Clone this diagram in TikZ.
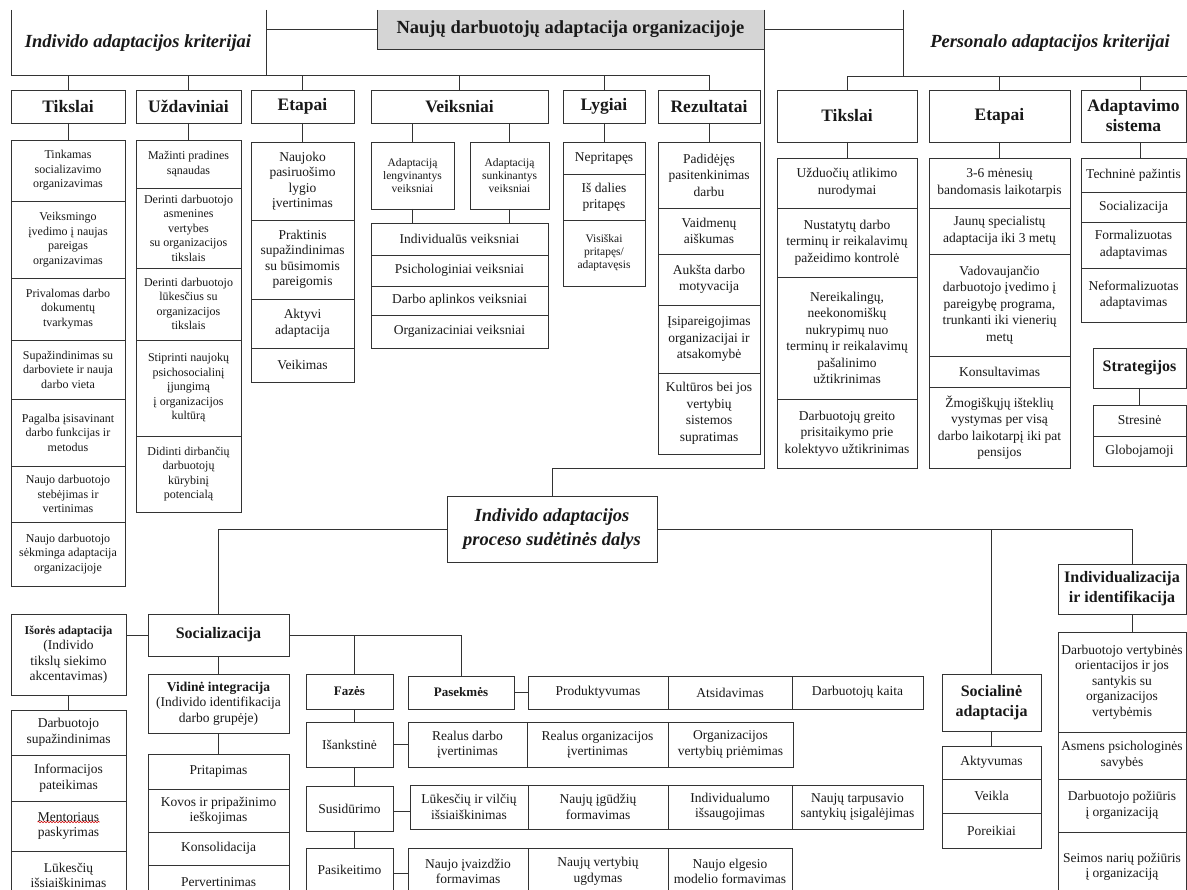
\documentclass[tikz,border=0pt]{standalone}
\usepackage{fontspec}
\setmainfont{Liberation Serif}
\usetikzlibrary{decorations.pathmorphing}
\newcommand\fnB{\fontsize{13.5}{15.5}\selectfont}
\newcommand\fnP{\fontsize{13.5}{16.5}\selectfont}
\newcommand\fnS{\fontsize{12}{14.5}\selectfont}
\newcommand\fnTiny{\fontsize{11.5}{13}\selectfont}
\newcommand\fnH{\fontsize{17.5}{20}\selectfont\bfseries}
\newcommand\fnM{\fontsize{16}{20}\selectfont\bfseries}
\newcommand\fnSb{\fontsize{13}{15.5}\selectfont\bfseries}
\newcommand\fnTitle{\fontsize{18.5}{22}\selectfont\bfseries}
\newcommand\fnIt{\fontsize{18.5}{24}\selectfont\bfseries\itshape}
\newcommand\bx[7][]{\node[box,#1,minimum width={(#5-#3)*1pt},minimum height={(#6-#4)*1pt}] (#2) at ({(#3+#5)/2},{(#4+#6)/2}) {#7};}
\begin{document}
\begin{tikzpicture}[x=1pt,y=-1pt,
  box/.style={draw=black!80,line width=0.9pt,inner sep=1pt,outer sep=0pt,align=center,text=black!90,font=\fnB},
  ln/.style={draw=black!80,line width=0.9pt},
  hd/.style={font=\fnH},
  sm/.style={font=\fnS},
  tn/.style={font=\fnTiny},
  rp/.style={font=\fnP}]
\clip (0,0) rectangle (1187,890);
\fill[white] (0,0) rectangle (1187,890);
% ---------- top title ----------
\fill[gray!33] (377,10) rectangle (764,49);
\node[font=\fnTitle,text=black!90] (title) at (570.5,29.5) {Naujų darbuotojų adaptacija organizacijoje};
\coordinate (tTL) at (377,10);
\coordinate (tBL) at (377,49);
\coordinate (tTR) at (764,10);
\coordinate (tJ) at (764,468);
\coordinate (tML) at (377,29.5);
\coordinate (tMR) at (764,29.5);
\draw[ln] (tTL) -- (tBL) -- (tBL -| tTR);
% ---------- left criteria ----------
\node[font=\fnIt,text=black!90] (kritL) at (138,43) {Individo adaptacijos kriterijai};
\coordinate (oL1) at (11,10);
\coordinate (oL2) at (266,10);
\coordinate (busL) at (11,75);
\bx[hd]{tikH}{11}{90}{125}{123}{Tikslai}
\bx[hd]{uzdH}{136}{90}{241}{123}{Uždaviniai}
\bx[hd]{etaH}{251}{90}{354}{123}{Etapai}
\bx[hd]{veiH}{371}{90}{548}{123}{Veiksniai}
\bx[hd]{lygH}{563}{90}{645}{123}{Lygiai}
\bx[hd]{rezH}{658}{90}{760}{123}{Rezultatai}
\draw[ln] (oL1) -- (busL) -| (rezH.north);
\draw[ln] (oL2) -- (oL2 |- busL);
\draw[ln] (tML) -- (tML -| oL2);
\foreach \n in {tikH,uzdH,etaH,veiH,lygH} \draw[ln] (\n.north) -- (\n.north |- busL);
% Tikslai
\bx[sm]{tik1}{11}{140}{125}{201}{Tinkamas\\socializavimo\\organizavimas}
\bx[sm]{tik2}{11}{201}{125}{278}{Veiksmingo\\įvedimo į naujas\\pareigas\\organizavimas}
\bx[sm]{tik3}{11}{278}{125}{340}{Privalomas darbo\\dokumentų\\tvarkymas}
\bx[sm]{tik4}{11}{340}{125}{399}{Supažindinimas su\\darboviete ir nauja\\darbo vieta}
\bx[sm]{tik5}{11}{399}{125}{466}{Pagalba įsisavinant\\darbo funkcijas ir\\metodus}
\bx[sm]{tik6}{11}{466}{125}{522}{Naujo darbuotojo\\stebėjimas ir\\vertinimas}
\bx[sm]{tik7}{11}{522}{125}{586}{Naujo darbuotojo\\sėkminga adaptacija\\organizacijoje}
% Uzdaviniai
\bx[sm]{uzd1}{136}{140}{241}{188}{Mažinti pradines\\sąnaudas}
\bx[sm]{uzd2}{136}{188}{241}{268}{Derinti darbuotojo\\asmenines\\vertybes\\su organizacijos\\tikslais}
\bx[sm]{uzd3}{136}{268}{241}{340}{Derinti darbuotojo\\lūkesčius su\\organizacijos\\tikslais}
\bx[sm]{uzd4}{136}{340}{241}{436}{Stiprinti naujokų\\psichosocialinį\\įjungimą\\į organizacijos\\kultūrą}
\bx[sm]{uzd5}{136}{436}{241}{512}{Didinti dirbančių\\darbuotojų\\kūrybinį\\potencialą}
% Etapai
\bx{eta1}{251}{142}{354}{220}{Naujoko\\pasiruošimo\\lygio\\įvertinimas}
\bx{eta2}{251}{220}{354}{299}{Praktinis\\supažindinimas\\su būsimomis\\pareigomis}
\bx{eta3}{251}{299}{354}{348}{Aktyvi\\adaptacija}
\bx{eta4}{251}{348}{354}{382}{Veikimas}
% Veiksniai
\bx[tn]{veiL}{371}{142}{454}{209}{Adaptaciją\\lengvinantys\\veiksniai}
\bx[tn]{veiR}{470}{142}{549}{209}{Adaptaciją\\sunkinantys\\veiksniai}
\bx{vei1}{371}{223}{548}{255}{Individualūs veiksniai}
\bx{vei2}{371}{255}{548}{286}{Psichologiniai veiksniai}
\bx{vei3}{371}{286}{548}{315}{Darbo aplinkos veiksniai}
\bx{vei4}{371}{315}{548}{348}{Organizaciniai veiksniai}
% Lygiai
\bx{lyg1}{563}{142}{645}{174}{Nepritapęs}
\bx{lyg2}{563}{174}{645}{220}{Iš dalies\\pritapęs}
\bx[tn]{lyg3}{563}{220}{645}{286}{Visiškai\\pritapęs/\\adaptavęsis}
% Rezultatai
\bx[rp]{rez1}{658}{142}{760}{208}{Padidėjęs\\pasitenkinimas\\darbu}
\bx[rp]{rez2}{658}{208}{760}{254}{Vaidmenų\\aiškumas}
\bx[rp]{rez3}{658}{254}{760}{305}{Aukšta darbo\\motyvacija}
\bx[rp]{rez4}{658}{305}{760}{373}{Įsipareigojimas\\organizacijai ir\\atsakomybė}
\bx[rp]{rez5}{658}{373}{760}{454}{Kultūros bei jos\\vertybių\\sistemos\\supratimas}
\draw[ln] (tikH.south) -- (tik1.north);
\draw[ln] (uzdH.south) -- (uzd1.north);
\draw[ln] (etaH.south) -- (eta1.north);
\draw[ln] (lygH.south) -- (lyg1.north);
\draw[ln] (rezH.south) -- (rez1.north);
\draw[ln] (veiL.north) -- (veiL.north |- veiH.south);
\draw[ln] (veiR.north) -- (veiR.north |- veiH.south);
\draw[ln] (veiL.south) -- (veiL.south |- vei1.north);
\draw[ln] (veiR.south) -- (veiR.south |- vei1.north);
% ---------- right criteria ----------
\node[font=\fnIt,text=black!90] (kritR) at (1050,43) {Personalo adaptacijos kriterijai};
\coordinate (oR) at (903,10);
\coordinate (busR) at (1190,76);
\draw[ln] (tMR) -- (tMR -| oR);
\draw[ln] (oR) -- (oR |- busR);
\bx[hd]{ptikH}{777}{90}{917}{142}{Tikslai}
\bx[hd]{petaH}{929}{90}{1070}{142}{Etapai}
\bx[hd]{adaH}{1081}{90}{1186}{142}{Adaptavimo\\sistema}
\draw[ln] (ptikH.north) |- (busR);
\draw[ln] (petaH.north) -- (petaH.north |- busR);
\draw[ln] ([xshift=7pt]adaH.north) -- ([xshift=7pt]adaH.north |- busR);
\bx[rp]{ptik1}{777}{158}{917}{208}{Užduočių atlikimo\\nurodymai}
\bx[rp]{ptik2}{777}{208}{917}{277}{Nustatytų darbo\\terminų ir reikalavimų\\pažeidimo kontrolė}
\bx[rp]{ptik3}{777}{277}{917}{399}{Nereikalingų,\\neekonomiškų\\nukrypimų nuo\\terminų ir reikalavimų\\pašalinimo\\užtikrinimas}
\bx[rp]{ptik4}{777}{399}{917}{468}{Darbuotojų greito\\prisitaikymo prie\\kolektyvo užtikrinimas}
\bx[rp]{peta1}{929}{158}{1070}{208}{3-6 mėnesių\\bandomasis laikotarpis}
\bx[rp]{peta2}{929}{208}{1070}{254}{Jaunų specialistų\\adaptacija iki 3 metų}
\bx[rp]{peta3}{929}{254}{1070}{356}{Vadovaujančio\\darbuotojo įvedimo į\\pareigybę programa,\\trunkanti iki vienerių\\metų}
\bx[rp]{peta4}{929}{356}{1070}{387}{Konsultavimas}
\bx[rp]{peta5}{929}{387}{1070}{468}{Žmogiškųjų išteklių\\vystymas per visą\\darbo laikotarpį iki pat\\pensijos}
\bx[rp]{ada1}{1081}{158}{1186}{192}{Techninė pažintis}
\bx[rp]{ada2}{1081}{192}{1186}{222}{Socializacija}
\bx[rp]{ada3}{1081}{222}{1186}{268}{Formalizuotas\\adaptavimas}
\bx[rp]{ada4}{1081}{268}{1186}{322}{Neformalizuotas\\adaptavimas}
\bx[font=\fnM]{strH}{1093}{348}{1186}{388}{Strategijos}
\bx[rp]{str1}{1093}{405}{1186}{436}{Stresinė}
\bx[rp]{str2}{1093}{436}{1186}{466}{Globojamoji}
\draw[ln] (ptikH.south) -- (ptik1.north);
\draw[ln] (petaH.south) -- (peta1.north);
\draw[ln] ([xshift=7pt]adaH.south) -- ([xshift=7pt]ada1.north);
\draw[ln] (strH.south) -- (str1.north);
% ---------- centre ----------
\bx[font=\fnIt]{proc}{447}{496}{657}{562}{Individo adaptacijos\\proceso sudėtinės dalys}
\draw[ln] (tTR) -- (tJ) -| (proc.north);
% ---------- lower left ----------
\bx[font=\fnM]{soc}{148}{614}{289}{656}{Socializacija}
\bx{isor}{11}{614}{126}{695}{{\fontsize{12}{15.5}\selectfont\bfseries Išorės adaptacija}\\(Individo\\tikslų siekimo\\akcentavimas)}
\bx{isor1}{11}{710}{126}{755}{Darbuotojo\\supažindinimas}
\bx{isor2}{11}{755}{126}{801}{Informacijos\\pateikimas}
\bx{isor3}{11}{801}{126}{851}{Mentoriaus\\paskyrimas}
\bx{isor4}{11}{851}{126}{900}{Lūkesčių\\išsiaiškinimas}
\bx{vid}{148}{674}{289}{733}{\textbf{Vidinė integracija}\\(Individo identifikacija\\darbo grupėje)}
\bx{vid1}{148}{754}{289}{789}{Pritapimas}
\bx{vid2}{148}{789}{289}{832}{Kovos ir pripažinimo\\ieškojimas}
\bx{vid3}{148}{832}{289}{865}{Konsolidacija}
\bx{vid4}{148}{865}{289}{900}{Pervertinimas}
\draw[red!80!black,line width=0.6pt,decorate,decoration={snake,amplitude=0.7pt,segment length=3pt}] ([xshift=-31pt,yshift=4pt]isor3.center) -- ([xshift=31pt,yshift=4pt]isor3.center);
\draw[ln] (proc.west) -| (soc.north);
\draw[ln] (soc.west) -- (soc.west -| isor.east);
\draw[ln] (isor.south) -- (isor1.north);
\draw[ln] (soc.south) -- (vid.north);
\draw[ln] (vid.south) -- (vid1.north);
% ---------- phases ----------
\bx[font=\fnSb]{faz}{306}{674}{393}{709}{Fazės}
\bx{isank}{306}{722}{393}{767}{Išankstinė}
\bx{susid}{306}{786}{393}{831}{Susidūrimo}
\bx{pasik}{306}{848}{393}{892}{Pasikeitimo}
\bx[font=\fnSb]{pas}{408}{676}{514}{709}{Pasekmės}
\bx{prod}{528}{676}{668}{709}{Produktyvumas}
\bx{atsi}{668}{676}{792}{709}{Atsidavimas}
\bx{kaita}{792}{676}{923}{709}{Darbuotojų kaita}
\bx{ra1}{408}{722}{527}{767}{Realus darbo\\įvertinimas}
\bx{ra2}{527}{722}{668}{767}{Realus organizacijos\\įvertinimas}
\bx{ra3}{668}{722}{793}{767}{Organizacijos\\vertybių priėmimas}
\bx{sa1}{410}{785}{528}{829}{Lūkesčių ir vilčių\\išsiaiškinimas}
\bx{sa2}{528}{785}{668}{829}{Naujų įgūdžių\\formavimas}
\bx{sa3}{668}{785}{792}{829}{Individualumo\\išsaugojimas}
\bx{sa4}{792}{785}{923}{829}{Naujų tarpusavio\\santykių įsigalėjimas}
\bx{pa1}{408}{848}{528}{895}{Naujo įvaizdžio\\formavimas}
\bx{pa2}{528}{848}{668}{895}{Naujų vertybių\\ugdymas}
\bx{pa3}{668}{848}{792}{895}{Naujo elgesio\\modelio formavimas}
\draw[ln] (soc.east) -| ([xshift=5pt]faz.north);
\draw[ln] (soc.east) -| (pas.north);
\draw[ln] ([xshift=5pt]faz.south) -- ([xshift=5pt]isank.north);
\draw[ln] ([xshift=5pt]isank.south) -- ([xshift=5pt]susid.north);
\draw[ln] ([xshift=5pt]susid.south) -- ([xshift=5pt]pasik.north);
\draw[ln] (pas.east) -- (prod.west);
\draw[ln] (isank.east) -- (isank.east -| ra1.west);
\draw[ln] ([yshift=-3pt]susid.east) -- ([yshift=-3pt]susid.east -| sa1.west);
\draw[ln] ([yshift=-3pt]pasik.east) -- ([yshift=-3pt]pasik.east -| pa1.west);
% ---------- lower right ----------
\bx[font=\fnM]{socad}{942}{674}{1041}{731}{Socialinė\\adaptacija}
\bx{socad1}{942}{746}{1041}{779}{Aktyvumas}
\bx{socad2}{942}{779}{1041}{813}{Veikla}
\bx{socad3}{942}{813}{1041}{848}{Poreikiai}
\draw[ln] (socad.north) -- (socad.north |- proc.east);
\draw[ln] (socad.south) -- (socad1.north);
\bx[font=\fnM]{ind}{1058}{564}{1186}{614}{Individualizacija\\ir identifikacija}
\bx{ind1}{1058}{632}{1186}{732}{Darbuotojo vertybinės\\orientacijos ir jos\\santykis su\\organizacijos\\vertybėmis}
\bx{ind2}{1058}{732}{1186}{779}{Asmens psichologinės\\savybės}
\bx{ind3}{1058}{779}{1186}{832}{Darbuotojo požiūris\\į organizaciją}
\bx{ind4}{1058}{832}{1186}{902}{Seimos narių požiūris\\į organizaciją}
\draw[ln] (proc.east) -| ([xshift=10pt]ind.north);
\draw[ln] ([xshift=10pt]ind.south) -- ([xshift=10pt]ind1.north);
\end{tikzpicture}
\end{document}
